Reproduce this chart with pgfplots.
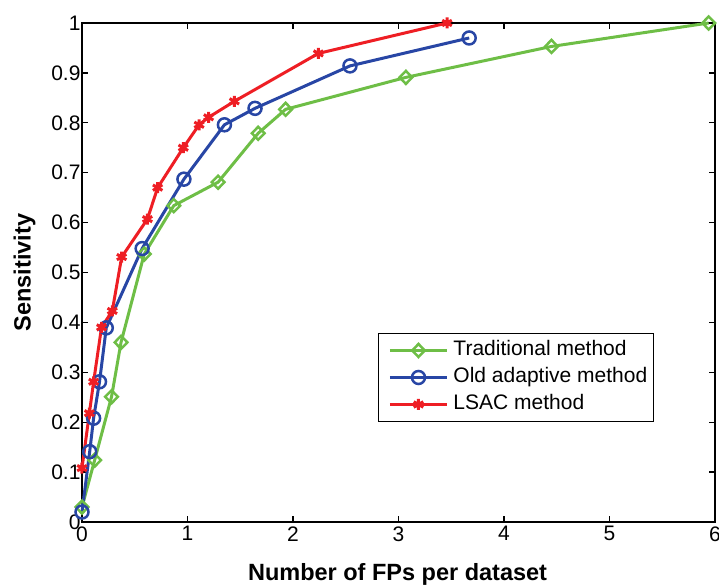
\documentclass[border=0pt]{standalone}
\usepackage{pgfplots}
\pgfplotsset{compat=1.18}
\usepackage{fontspec}
\setmainfont{Liberation Sans}
\definecolor{cgreen}{RGB}{110,190,70}
\definecolor{cblue}{RGB}{40,70,165}
\definecolor{cred}{RGB}{238,30,36}
\begin{document}
\begin{tikzpicture}
\begin{axis}[
  name=ax,
  scale only axis,
  width=633pt, height=499pt,
  xmin=0, xmax=6, ymin=0, ymax=1,
  xtick={0,1,2,3,4,5,6},
  ytick={0,0.1,0.2,0.3,0.4,0.5,0.6,0.7,0.8,0.9,1},
  yticklabels={0,0.1,0.2,0.3,0.4,0.5,0.6,0.7,0.8,0.9,1},
  xticklabels={0,1,2,3,4,5,6},
  tick align=inside,
  xtick pos=both, ytick pos=both,
  xticklabel pos=lower, yticklabel pos=left,
  major tick length=6pt,
  every tick/.style={black, line width=1.4pt},
  axis line style={line width=1.6pt},
  tick label style={font=\fontsize{21}{24}\selectfont},
  /pgf/number format/assume math mode=true,
  yticklabel style={xshift=2pt},
  xticklabel style={yshift=-1pt},
  xlabel={\bfseries Number of FPs per dataset},
  ylabel={\bfseries Sensitivity},
  label style={font=\fontsize{23.5}{26}\selectfont},
  xlabel style={at={(axis description cs:0.4985,-0.1182)}, anchor=base},
  ylabel style={at={(axis description cs:-0.081,0.5)}, anchor=base, rotate=0},
  clip=false,
  legend cell align=left,
  legend style={at={(axis description cs:0.4676,0.3788)}, anchor=north west,
    draw=black, line width=1pt, font=\fontsize{21}{24}\selectfont,
    inner xsep=4pt, inner ysep=5pt, row sep=3pt,
    nodes={inner sep=2pt, text height=15pt, text depth=5pt}},
  legend image code/.code={\path (0pt,0pt); \draw[mark repeat=2,mark phase=2,#1] plot coordinates {(6pt,0pt) (34.5pt,0pt) (63pt,0pt)}; \path (66pt,0pt);},
]
\addplot[color=cgreen, line width=3pt, mark=diamond, mark size=6.5pt,
  mark options={solid, xscale=1.3, line width=2.5pt, fill=white}]
coordinates {(0,0.03) (0.12,0.124) (0.28,0.251) (0.37,0.36) (0.59,0.537) (0.87,0.634) (1.29,0.681) (1.67,0.779) (1.93,0.827) (3.07,0.891) (4.45,0.953) (5.94,1.0)};
\addlegendentry{Traditional method}
\addplot[color=cblue, line width=3pt, mark=o, mark size=6.5pt,
  mark options={solid, line width=2.5pt}]
coordinates {(0,0.02) (0.073,0.141) (0.11,0.208) (0.166,0.281) (0.23,0.389) (0.57,0.548) (0.966,0.687) (1.35,0.796) (1.64,0.829) (2.54,0.914) (3.67,0.970)};
\addlegendentry{Old adaptive method}
\addplot[color=cred, line width=3pt, mark=asterisk, mark size=5.5pt,
  mark options={solid, line width=3pt}]
coordinates {(0,0.108) (0.07,0.218) (0.11,0.281) (0.185,0.39) (0.287,0.423) (0.376,0.531) (0.62,0.607) (0.717,0.670) (0.96,0.750) (1.11,0.796) (1.20,0.811) (1.444,0.843) (2.24,0.939) (3.46,1.0)};
\addlegendentry{LSAC method}
\coordinate (sw) at (rel axis cs:0,0);
\coordinate (ne) at (rel axis cs:1,1);
\end{axis}
\pgfresetboundingbox
\useasboundingbox ([shift={(-82pt,-65pt)}]sw) rectangle ([shift={(4pt,23pt)}]ne);
\end{tikzpicture}
\end{document}
